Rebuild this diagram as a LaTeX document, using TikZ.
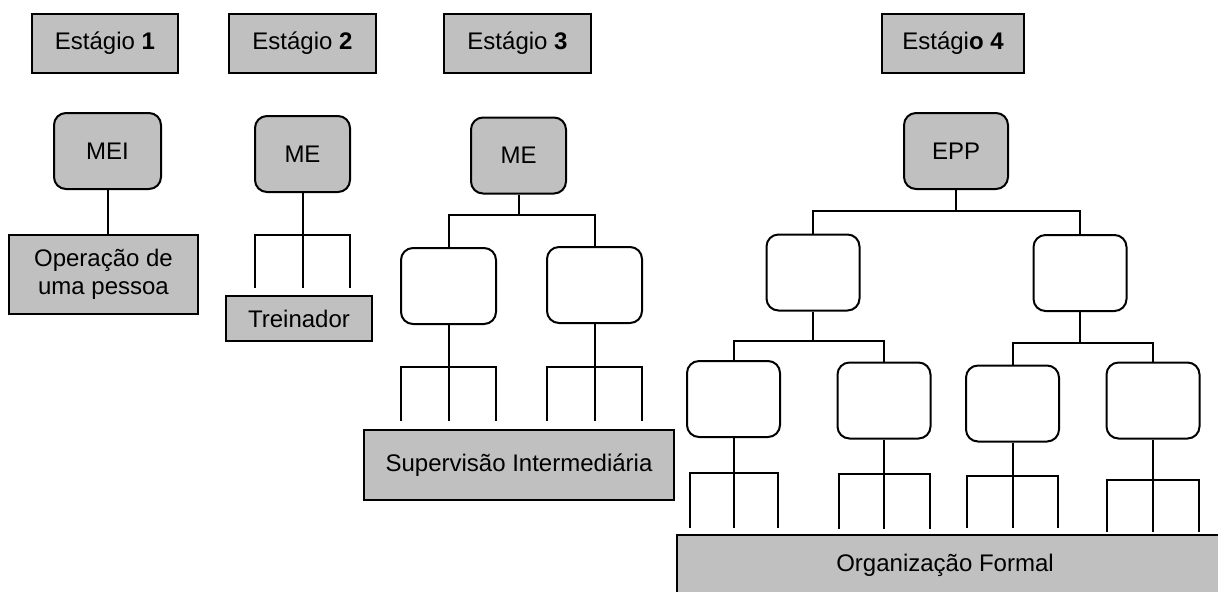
\documentclass[tikz,border=0pt]{standalone}
\usepackage{fontspec}
\setmainfont{Liberation Sans}
\usetikzlibrary{positioning}

\definecolor{boxgray}{HTML}{C0C0C0}

\tikzset{
  txt/.style={font=\fontsize{12}{13.8}\selectfont, align=center, inner sep=0pt},
  stagebox/.style={txt, draw, fill=boxgray, line width=1pt, minimum width=73pt, minimum height=29.5pt},
  firm/.style={txt, draw, fill=boxgray, line width=1pt, rounded corners=6pt, minimum width=47.5pt, minimum height=38pt},
  unit/.style={draw, line width=1pt, rounded corners=6pt, minimum width=46.5pt, minimum height=38pt},
  levelbox/.style={txt, draw, fill=boxgray, line width=1pt},
  link/.style={line width=1pt}
}

\begin{document}
\begin{tikzpicture}[x=0.5pt, y=-0.5pt]
            \clip (0,0) rectangle (1218,591);

            % estagios
            \node[stagebox] (st1) at (105,43.5) {Estágio \textbf{1}};
            \node[stagebox, minimum width=73.5pt] (st2) at (302.5,43.5) {Estágio \textbf{2}};
            \node[stagebox, minimum width=73.5pt] (st3) at (517.5,43.5) {Estágio \textbf{3}};
            \node[stagebox, minimum width=71pt] (st4) at (953,43.5) {Estági\textbf{o 4}};

            % topo
            \node[firm, minimum width=53.5pt] (mei) at (107.5,151) {MEI};
            \node[firm] (me2) at (302.5,154) {ME};
            \node[firm] (me3) at (518.5,155.5) {ME};
            \node[firm, minimum width=52pt] (epp) at (956,151) {EPP};

            % unidades
            \node[unit, minimum width=47.5pt] (s3a) at (448.5,286) {};
            \node[unit, minimum width=47.5pt] (s3b) at (594.5,285) {};
            \node[unit] (s4a) at (813,272.5) {};
            \node[unit] (s4b) at (1080,273) {};
            \node[unit] (s4aa) at (733.5,399) {};
            \node[unit] (s4ab) at (884,400.5) {};
            \node[unit] (s4ba) at (1012.5,403.5) {};
            \node[unit] (s4bb) at (1153,400.5) {};

            % niveis
            \node[levelbox, minimum width=94.5pt, minimum height=39.5pt] (op) at (103.5,274.5) {Operação de\\uma pessoa};
            \node[levelbox, minimum width=73pt, minimum height=22.5pt] (tre) at (299,318.5) {Treinador};
            \node[levelbox, minimum width=155pt, minimum height=35pt] (sup) at (519,465) {Supervisão Intermediária};
            \node[levelbox, minimum width=300pt, minimum height=30pt] (org) at (977,565) {\hspace*{-32pt}Organização Formal};

            % ligacoes
            \draw[link] (mei.south) -- (mei.south |- op.north);

            \draw[link] (me3.south) -- ++(0,20) coordinate (b3);
            \draw[link] (s3a.north) |- (b3) -| (s3b.north);

            \draw[link] (epp.south) -- ++(0,21) coordinate (b4);
            \draw[link] (s4a.north) |- (b4) -| (s4b.north);

            \draw[link] (s4a.south) -- ++(0,29) coordinate (b4a);
            \draw[link] (s4aa.north) |- (b4a) -| (s4ab.north);

            \draw[link] (s4b.south) -- ++(0,31) coordinate (b4b);
            \draw[link] (s4ba.north) |- (b4b) -| (s4bb.north);

            % garfos
            \foreach \n/\d/\l/\w in {me2/42/53/47.5, s3a/42/54/47.5, s3b/43/54/47.5,
                                     s4aa/35/55/44, s4ab/34/55/45.5, s4ba/33/52/45.5, s4bb/40/52/46}
            {
                \draw[link] (\n.south) -- ++(0,\d+\l);
                \draw[link] (\n.south) ++(-\w,\d+\l) |- ++(2*\w,-\l) -- ++(0,\l);
            }
        \end{tikzpicture}
\end{document}
